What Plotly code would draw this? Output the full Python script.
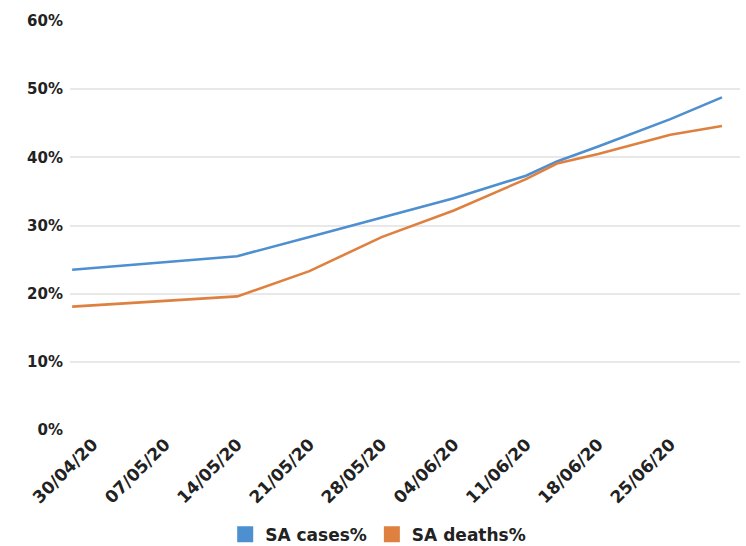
import plotly.graph_objects as go

dates = ["2020-04-28", "2020-05-14", "2020-05-21", "2020-05-28", "2020-06-04",
         "2020-06-11", "2020-06-14", "2020-06-18", "2020-06-25", "2020-06-30"]
sa_cases = [23.5, 25.5, 28.3, 31.1, 34.0, 37.3, 39.4, 41.6, 45.6, 48.8]
sa_deaths = [18.1, 19.6, 23.3, 28.3, 32.2, 36.8, 39.1, 40.5, 43.3, 44.6]

BLUE = "#4d8fcf"
ORANGE = "#de8140"
FONT = "DejaVu Sans"
TXT = "#222222"

fig = go.Figure()
fig.add_trace(go.Scatter(x=dates, y=sa_cases, mode="lines", name="SA cases%",
                         line=dict(color=BLUE, width=2.6), showlegend=False))
fig.add_trace(go.Scatter(x=dates, y=sa_deaths, mode="lines", name="SA deaths%",
                         line=dict(color=ORANGE, width=2.6), showlegend=False))
# legend entries (square swatches)
fig.add_trace(go.Scatter(x=[None], y=[None], mode="markers", name="SA cases%",
                         marker=dict(symbol="square", size=20, color=BLUE)))
fig.add_trace(go.Scatter(x=[None], y=[None], mode="markers", name="SA deaths%",
                         marker=dict(symbol="square", size=20, color=ORANGE)))

fig.update_layout(
    width=746, height=546,
    margin=dict(l=70, r=6, t=21, b=116, autoexpand=False),
    paper_bgcolor="white", plot_bgcolor="white",
    font=dict(family=FONT, color=TXT, size=15),
    showlegend=True,
    legend=dict(orientation="h", x=0.46, xanchor="center", y=-0.256, yanchor="middle",
                font=dict(size=17, family=FONT, weight="bold", color=TXT),
                itemsizing="trace", traceorder="normal", itemwidth=30),
    xaxis=dict(type="date", range=["2020-04-27 19:00", "2020-07-01 18:00"],
               tick0="2020-04-30", dtick=7 * 86400000, tickformat="%d/%m/%y",
               tickangle=-45, showgrid=False, zeroline=False, showline=False,
               tickfont=dict(size=17, family=FONT, weight="bold", color=TXT),
               ticks=""),
    yaxis=dict(range=[0, 60], dtick=10, ticksuffix="%", showgrid=True,
               gridcolor="#e8e8e8", gridwidth=1.5, zeroline=False, showline=False,
               tickfont=dict(size=15, family=FONT, weight="bold", color=TXT),
               ticklabelstandoff=6),
)

fig.write_html("out.html")
